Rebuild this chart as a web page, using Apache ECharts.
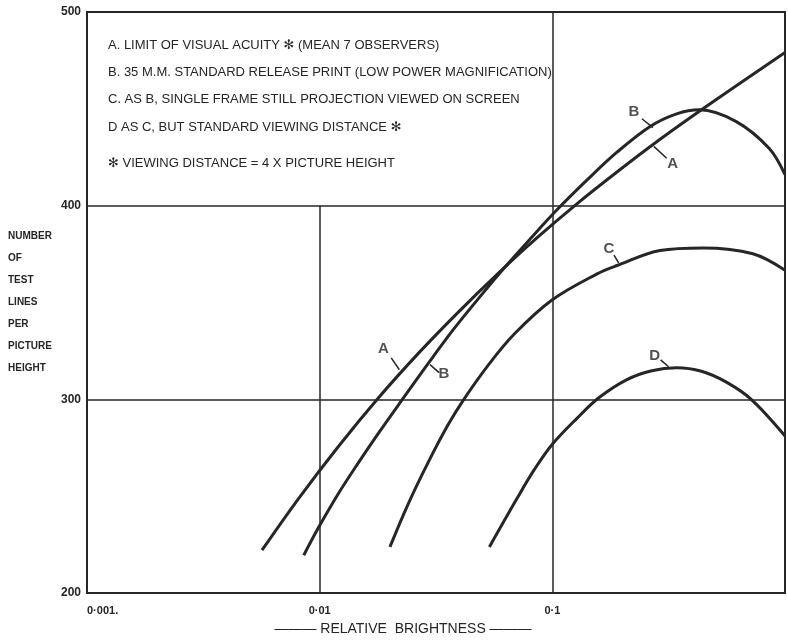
<!DOCTYPE html>
<html>
<head>
<meta charset="utf-8">
<script src="https://cdn.jsdelivr.net/npm/echarts@6/dist/echarts.min.js"></script>
<style>
html,body{margin:0;padding:0;background:#fff;}
#chart{width:788px;height:641px;}
</style>
</head>
<body>
<div id="chart"></div>
<script>
// Curve data (relative brightness, test lines per picture height)
const aX = [0.00565, 0.00813, 0.01206, 0.01787, 0.02649, 0.03926, 0.05821, 0.08628, 0.1279, 0.1896, 0.2810, 0.4166, 0.6175, 1.0];
const aY = [222.1, 248.9, 275.8, 300.7, 323.6, 344.8, 364.8, 383.6, 401.1, 417.4, 433.0, 447.7, 461.9, 479.1];
const bX = [0.008543, 0.009901, 0.01206, 0.01468, 0.01787, 0.02263, 0.02923, 0.03737, 0.04781, 0.06114, 0.08054, 0.1050, 0.1411, 0.1896, 0.2623, 0.3421, 0.4290, 0.6175, 0.8543, 1.0];
const bY = [219.5, 233.9, 251.5, 267.3, 282.4, 299.8, 318.4, 335.7, 351.6, 366.9, 383.0, 398.0, 413.3, 427.6, 440.8, 447.4, 449.5, 443.4, 429.6, 416.0];
const cX = [0.02005, 0.02400, 0.02923, 0.03558, 0.04166, 0.05275, 0.06861, 0.1, 0.1557, 0.1896, 0.2902, 0.4449, 0.7278, 1.0];
const cY = [223.8, 245.9, 267.3, 286.7, 300.0, 317.3, 333.7, 351.4, 364.8, 369.1, 376.9, 378.2, 375.2, 366.7];
const dX = [0.05364, 0.07087, 0.08378, 0.1, 0.1279, 0.1584, 0.2092, 0.2676, 0.3421, 0.4375, 0.5596, 0.7157, 1.0];
const dY = [223.8, 249.3, 263.8, 276.8, 290.3, 300.8, 310.2, 314.8, 316.3, 314.5, 308.9, 300.0, 281.1];

// Axis ticks
const xTickValues = [0.001, 0.01, 0.1, 1];
const xTickLabels = ['0·001.', '0·01', '0·1', ''];
const yTicks = [200, 300, 400, 500];

// Curve annotation letters (data coordinates) and leader lines
const labelNames = ['A', 'B', 'B', 'A', 'C', 'D'];
const labelX = [0.0188, 0.0342, 0.224, 0.329, 0.175, 0.275];
const labelY = [326, 313.3, 448.5, 421.4, 377.6, 322.4];
const leaderFromX = [0.0203, 0.0298, 0.2427, 0.273, 0.184, 0.292];
const leaderFromY = [321.4, 317.9, 444.9, 430.6, 374.5, 320.4];
const leaderToX = [0.022, 0.0326, 0.2705, 0.31, 0.193, 0.316];
const leaderToY = [315.3, 313.8, 440.3, 424.5, 370.4, 316.8];

// Key text
const keyLines = [
  'A. LIMIT OF VISUAL ACUITY ✻ (MEAN 7 OBSERVERS)',
  'B. 35 M.M. STANDARD RELEASE PRINT (LOW POWER MAGNIFICATION)',
  'C. AS B, SINGLE FRAME STILL PROJECTION VIEWED ON SCREEN',
  'D AS C, BUT STANDARD VIEWING DISTANCE ✻',
  '✻ VIEWING DISTANCE = 4 X PICTURE HEIGHT'
];
const keyTops = [39, 66, 93, 121, 157];

const ink = '#262626';
const font = 'Liberation Sans, DejaVu Sans, sans-serif';

function zip(xs, ys) { return xs.map((x, i) => [x, ys[i]]); }

const curveStyle = { width: 3, color: ink };
function curve(name, xs, ys) {
  return {
    name, type: 'line', data: zip(xs, ys), smooth: 0.35,
    showSymbol: false, symbol: 'none', lineStyle: curveStyle,
    itemStyle: { color: ink }, silent: true, z: 5
  };
}

const chart = echarts.init(document.getElementById('chart'), null, { renderer: 'canvas' });
chart.setOption({
  animation: false,
  backgroundColor: '#fff',
  title: keyLines.map((t, i) => ({
    text: t, left: 108, top: keyTops[i], padding: 0,
    textStyle: { fontFamily: font, fontSize: 13, fontWeight: 'normal', color: ink }
  })),
  grid: { left: 87, right: 1, top: 12, bottom: 41, show: true, borderColor: ink, borderWidth: 2, backgroundColor: 'transparent' },
  xAxis: {
    type: 'log', logBase: 10, min: 0.001, max: 1,
    name: '——— RELATIVE  BRIGHTNESS ———',
    nameLocation: 'middle', nameGap: 29,
    nameTextStyle: { fontFamily: font, fontSize: 14, color: ink, padding: [0, 66, 0, 0] },
    axisLine: { show: true, lineStyle: { color: ink, width: 2 } },
    axisTick: { show: false },
    splitLine: { show: false },
    axisLabel: {
      color: ink, fontFamily: font, fontSize: 11, fontWeight: 'bold', margin: 12,
      alignMinLabel: 'left',
      formatter: v => {
        const i = xTickValues.findIndex(t => Math.abs(Math.log10(t) - Math.log10(v)) < 1e-6);
        return i >= 0 ? xTickLabels[i] : '';
      }
    }
  },
  yAxis: {
    type: 'value', min: yTicks[0], max: yTicks[yTicks.length - 1], interval: 100,
    name: 'NUMBER\nOF\nTEST\nLINES\nPER\nPICTURE\nHEIGHT',
    nameLocation: 'middle', nameRotate: 0, nameGap: 79,
    nameTextStyle: { fontFamily: font, fontSize: 10, fontWeight: 'bold', color: ink, align: 'left', lineHeight: 22 },
    axisLine: { show: true, lineStyle: { color: ink, width: 2 } },
    axisTick: { show: false },
    splitLine: { show: true, lineStyle: { color: ink, width: 1.5 } },
    axisLabel: { color: ink, fontFamily: font, fontSize: 12, fontWeight: 'bold', margin: 6 }
  },
  series: [
    {
      name: 'grid', type: 'line', data: [], silent: true, z: 2,
      markLine: {
        silent: true, symbol: 'none', label: { show: false },
        lineStyle: { color: ink, width: 1.5, type: 'solid' },
        data: [
          [{ coord: [0.01, 200] }, { coord: [0.01, 400] }],
          [{ coord: [0.1, 200] }, { coord: [0.1, 500] }]
        ]
      }
    },
    curve('A', aX, aY),
    curve('B', bX, bY),
    curve('C', cX, cY),
    curve('D', dX, dY),
    {
      name: 'labels', type: 'scatter', symbolSize: 0, silent: true, z: 6,
      data: labelNames.map((n, i) => ({ name: n, value: [labelX[i], labelY[i]] })),
      label: {
        show: true, position: 'inside', formatter: p => p.name,
        fontFamily: font, fontSize: 15, fontWeight: 'bold', color: ink
      },
      markLine: {
        silent: true, symbol: 'none', label: { show: false },
        lineStyle: { color: ink, width: 1.5, type: 'solid' },
        data: labelNames.map((n, i) => [
          { coord: [leaderFromX[i], leaderFromY[i]] },
          { coord: [leaderToX[i], leaderToY[i]] }
        ])
      }
    }
  ]
});
</script>
</body>
</html>
